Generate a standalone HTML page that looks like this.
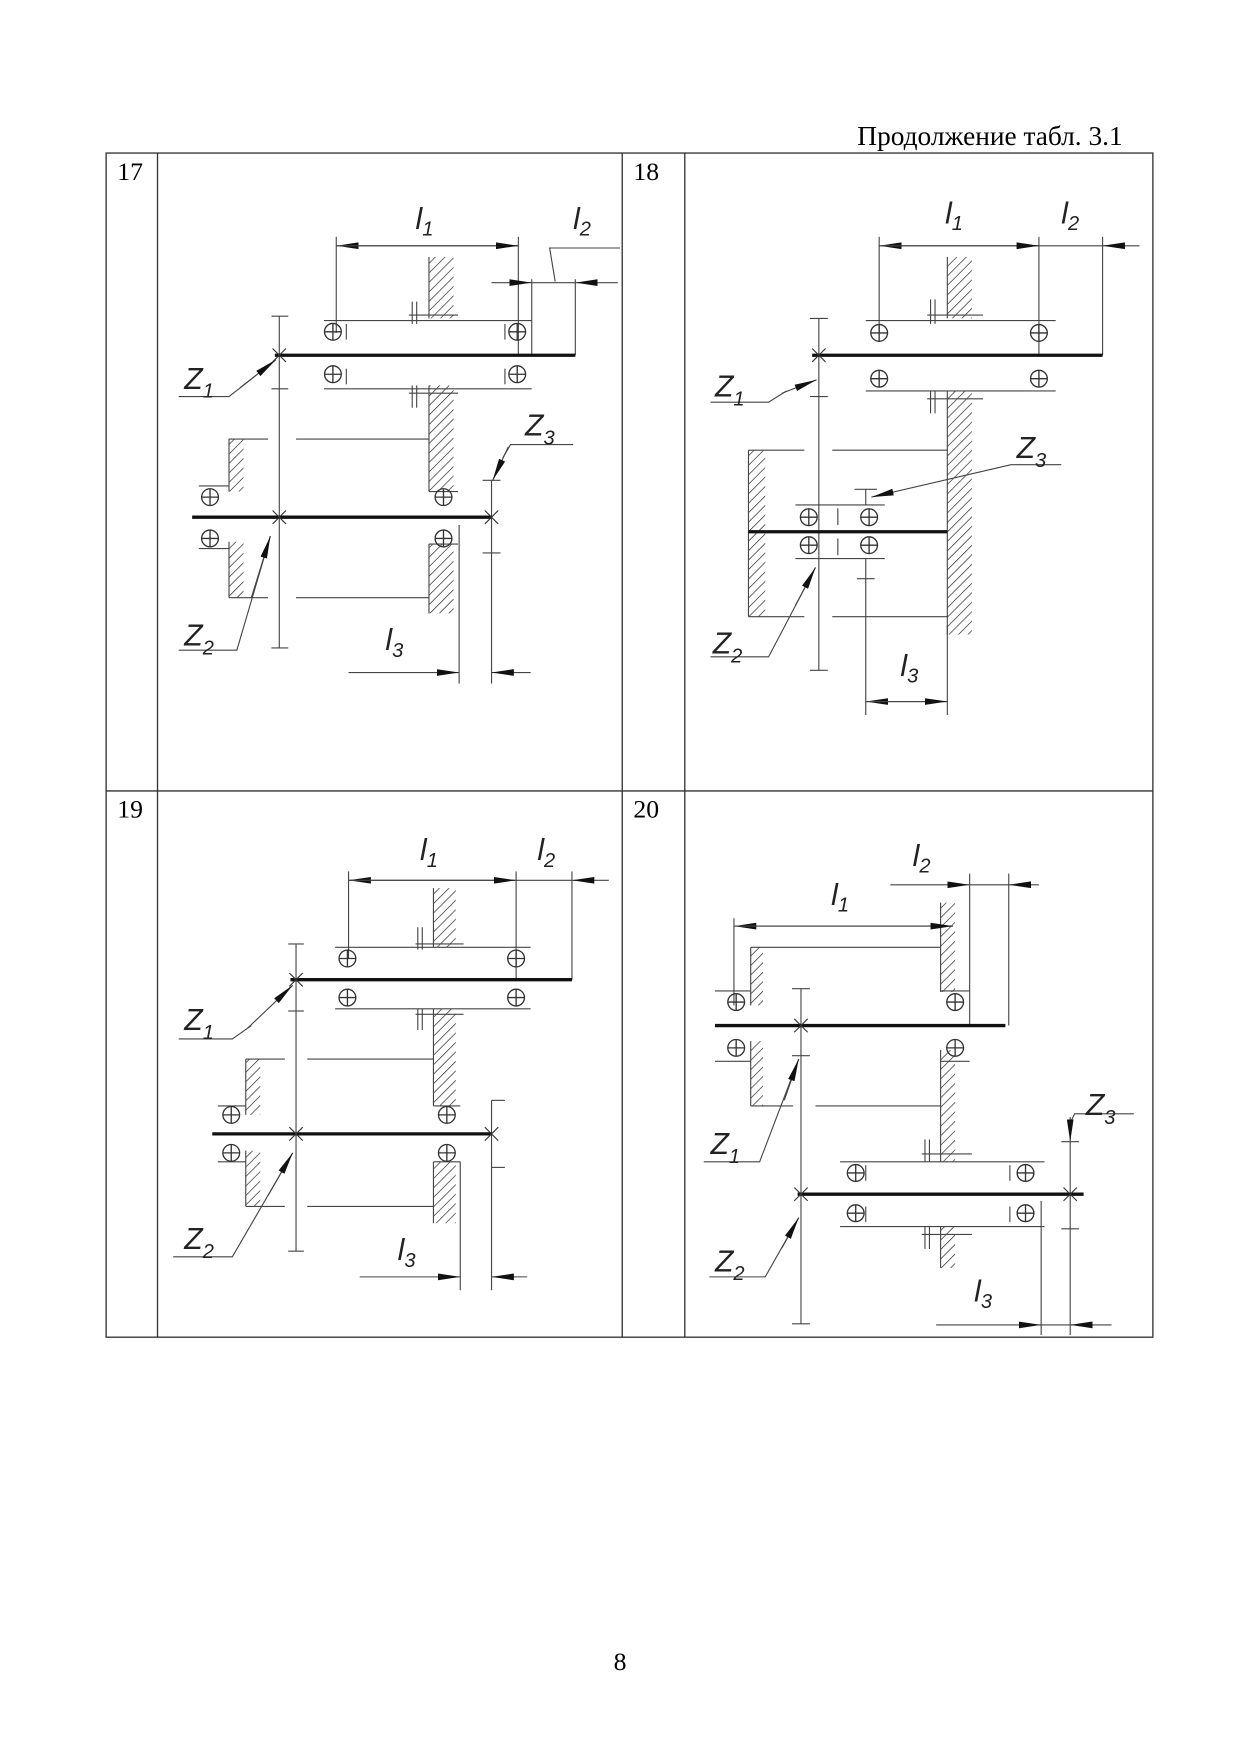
<!DOCTYPE html>
<html><head><meta charset="utf-8"><style>
html,body{margin:0;padding:0;background:#fff;}
svg{display:block;}
.t{font-family:"Liberation Serif",serif;font-size:23px;fill:#000;}
.hd{font-family:"Liberation Serif",serif;font-size:24.5px;fill:#000;}
.lb{font-family:"Liberation Sans",sans-serif;font-style:italic;font-size:27px;fill:#222;font-weight:normal;}
.sb{font-size:18px;}
</style></head><body>
<svg width="1240" height="1755" viewBox="0 0 1110 1571" preserveAspectRatio="none" xmlns="http://www.w3.org/2000/svg">
<defs>
<pattern id="h" width="6" height="6" patternUnits="userSpaceOnUse" patternTransform="rotate(45)">
<line x1="0" y1="0" x2="0" y2="6" stroke="#222" stroke-width="1.2"/></pattern>
<marker id="a" viewBox="0 0 20 8" refX="20" refY="4" markerWidth="20" markerHeight="8" markerUnits="userSpaceOnUse" orient="auto">
<path d="M0,1 L20,4 L0,7 Z" fill="#111"/></marker>
<symbol id="b" viewBox="-9 -9 18 18" width="18" height="18" overflow="visible">
<circle r="7.5" fill="none" stroke="#333" stroke-width="1.2"/><line x1="-7.5" y1="0" x2="7.5" y2="0" stroke="#333" stroke-width="1.2"/><line x1="0" y1="-7.5" x2="0" y2="7.5" stroke="#333" stroke-width="1.2"/></symbol>
</defs>
<rect width="1110" height="1571" fill="#fff"/>
<text class="hd" x="1005" y="130" text-anchor="end">Продолжение табл. 3.1</text>
<g stroke="#333" stroke-width="1.2" fill="none">
<rect x="95" y="137" width="937" height="1060"/>
<line x1="141" y1="137" x2="141" y2="1197"/><line x1="557" y1="137" x2="557" y2="1197"/><line x1="613" y1="137" x2="613" y2="1197"/>
<line x1="95" y1="708" x2="1032" y2="708"/>
</g>
<text class="t" x="105" y="161">17</text><text class="t" x="567" y="161">18</text>
<text class="t" x="105" y="732">19</text><text class="t" x="567" y="732">20</text>
<text class="t" x="555" y="1495" text-anchor="middle">8</text>

<!-- ===== 17 ===== -->
<g stroke="#444" stroke-width="1" fill="none">
<rect x="384" y="230" width="22" height="55" fill="url(#h)" stroke="none"/><line x1="384" y1="230" x2="384" y2="285"/>
<rect x="384" y="345" width="22" height="95" fill="url(#h)" stroke="none"/><line x1="384" y1="345" x2="384" y2="440"/>
<rect x="384" y="487" width="22" height="62" fill="url(#h)" stroke="none"/><line x1="384" y1="487" x2="384" y2="549"/>
<line x1="301" y1="212" x2="301" y2="298"/><line x1="464" y1="212" x2="464" y2="318"/>
<line x1="464" y1="220" x2="301" y2="220" marker-end="url(#a)"/><line x1="301" y1="220" x2="464" y2="220" marker-end="url(#a)"/>
<line x1="476" y1="250" x2="476" y2="318"/><line x1="515" y1="250" x2="515" y2="318"/>
<line x1="440" y1="253" x2="476" y2="253" marker-end="url(#a)"/><line x1="553" y1="253" x2="515" y2="253" marker-end="url(#a)"/>
<line x1="476" y1="253" x2="515" y2="253"/>
<polyline points="497,252 492,222 555,222"/>
<line x1="290" y1="287" x2="476" y2="287"/><line x1="290" y1="348" x2="476" y2="348"/>
<line x1="310" y1="290" x2="310" y2="304"/><line x1="452" y1="290" x2="452" y2="304"/>
<line x1="310" y1="330" x2="310" y2="344"/><line x1="452" y1="330" x2="452" y2="344"/>
<line x1="366" y1="282" x2="410" y2="282"/><line x1="369" y1="270" x2="369" y2="290"/><line x1="373" y1="270" x2="373" y2="290"/>
<line x1="366" y1="352" x2="410" y2="352"/><line x1="369" y1="345" x2="369" y2="365"/><line x1="373" y1="345" x2="373" y2="365"/>
<line x1="250" y1="283" x2="250" y2="580"/><line x1="243" y1="283" x2="258" y2="283"/><line x1="243" y1="348" x2="258" y2="348"/><line x1="243" y1="580" x2="258" y2="580"/>
<polyline points="160,355 205,355 247,322" /><line x1="215" y1="347" x2="247" y2="322" marker-end="url(#a)"/>
<polyline points="160,582 212,582 242,480"/><line x1="225" y1="535" x2="242" y2="480" marker-end="url(#a)"/>
<rect x="205" y="393" width="13" height="47" fill="url(#h)" stroke="none"/><line x1="205" y1="393" x2="205" y2="440"/>
<rect x="205" y="485" width="13" height="50" fill="url(#h)" stroke="none"/><line x1="205" y1="485" x2="205" y2="535"/>
<line x1="205" y1="393" x2="240" y2="393"/><line x1="265" y1="393" x2="384" y2="393"/>
<line x1="205" y1="535" x2="240" y2="535"/><line x1="265" y1="535" x2="384" y2="535"/>
<line x1="178" y1="435" x2="205" y2="435"/><line x1="178" y1="491" x2="205" y2="491"/>
<line x1="384" y1="440" x2="410" y2="440"/><line x1="384" y1="487" x2="410" y2="487"/>
<line x1="411" y1="470" x2="411" y2="612"/><line x1="440" y1="430" x2="440" y2="612"/>
<line x1="432" y1="430" x2="448" y2="430"/><line x1="432" y1="495" x2="448" y2="495"/>
<polyline points="513,398 457,398 450,410"/><line x1="455" y1="400" x2="441" y2="430" marker-end="url(#a)"/>
<line x1="312" y1="602" x2="411" y2="602" marker-end="url(#a)"/><line x1="475" y1="602" x2="440" y2="602" marker-end="url(#a)"/>
</g>
<g stroke="#111" stroke-width="3"><line x1="246" y1="318" x2="515" y2="318"/><line x1="172" y1="463" x2="440" y2="463"/></g>
<g stroke="#333" stroke-width="1"><path d="M244,312 l12,12 M256,312 l-12,12 M244,457 l12,12 M256,457 l-12,12 M434,457 l12,12 M446,457 l-12,12"/></g>
<use href="#b" x="289" y="288"/><use href="#b" x="454" y="288"/><use href="#b" x="289" y="326"/><use href="#b" x="454" y="326"/>
<use href="#b" x="179" y="436"/><use href="#b" x="179" y="473"/><use href="#b" x="388" y="436"/><use href="#b" x="388" y="473"/>
<text class="lb" x="372" y="205">l<tspan class="sb" dy="6">1</tspan></text>
<text class="lb" x="513" y="205">l<tspan class="sb" dy="6">2</tspan></text>
<text class="lb" x="165" y="348">Z<tspan class="sb" dy="8">1</tspan></text>
<text class="lb" x="165" y="578">Z<tspan class="sb" dy="8">2</tspan></text>
<text class="lb" x="470" y="390">Z<tspan class="sb" dy="8">3</tspan></text>
<text class="lb" x="345" y="582">l<tspan class="sb" dy="6">3</tspan></text>

<!-- ===== 18 ===== -->
<g stroke="#444" stroke-width="1" fill="none">
<rect x="848" y="230" width="22" height="55" fill="url(#h)" stroke="none"/><line x1="848" y1="230" x2="848" y2="285"/>
<rect x="848" y="350" width="22" height="218" fill="url(#h)" stroke="none"/><line x1="848" y1="350" x2="848" y2="568"/>
<line x1="787" y1="212" x2="787" y2="298"/><line x1="930" y1="212" x2="930" y2="318"/><line x1="987" y1="212" x2="987" y2="318"/>
<line x1="930" y1="220" x2="787" y2="220" marker-end="url(#a)"/><line x1="787" y1="220" x2="930" y2="220" marker-end="url(#a)"/>
<line x1="930" y1="220" x2="987" y2="220"/><line x1="1020" y1="220" x2="987" y2="220" marker-end="url(#a)"/>
<line x1="775" y1="287" x2="945" y2="287"/><line x1="775" y1="350" x2="945" y2="350"/>
<line x1="830" y1="282" x2="880" y2="282"/><line x1="833" y1="268" x2="833" y2="290"/><line x1="837" y1="268" x2="837" y2="290"/>
<line x1="830" y1="357" x2="880" y2="357"/><line x1="833" y1="350" x2="833" y2="370"/><line x1="837" y1="350" x2="837" y2="370"/>
<line x1="733" y1="285" x2="733" y2="600"/><line x1="725" y1="285" x2="741" y2="285"/><line x1="725" y1="355" x2="741" y2="355"/><line x1="725" y1="600" x2="741" y2="600"/>
<polyline points="636,360 688,360 704,350"/><line x1="700" y1="352" x2="731" y2="340" marker-end="url(#a)"/>
<polyline points="636,588 688,588 730,508"/><line x1="712" y1="542" x2="730" y2="508" marker-end="url(#a)"/>
<rect x="670" y="403" width="15" height="149" fill="url(#h)" stroke="none"/><line x1="670" y1="403" x2="670" y2="552"/>
<line x1="670" y1="403" x2="720" y2="403"/><line x1="745" y1="403" x2="848" y2="403"/>
<line x1="670" y1="552" x2="720" y2="552"/><line x1="745" y1="552" x2="848" y2="552"/>
<line x1="712" y1="452" x2="792" y2="452"/><line x1="712" y1="500" x2="792" y2="500"/>
<line x1="750" y1="455" x2="750" y2="470"/><line x1="750" y1="482" x2="750" y2="497"/>
<line x1="775" y1="438" x2="775" y2="452"/><line x1="765" y1="438" x2="785" y2="438"/>
<line x1="775" y1="500" x2="775" y2="640"/><line x1="767" y1="518" x2="783" y2="518"/>
<line x1="848" y1="560" x2="848" y2="640"/>
<line x1="848" y1="628" x2="775" y2="628" marker-end="url(#a)"/><line x1="775" y1="628" x2="848" y2="628" marker-end="url(#a)"/>
<polyline points="950,416 905,416"/><line x1="905" y1="416" x2="780" y2="445" marker-end="url(#a)"/>
</g>
<g stroke="#111" stroke-width="3"><line x1="727" y1="318" x2="987" y2="318"/><line x1="670" y1="476" x2="848" y2="476"/></g>
<g stroke="#333" stroke-width="1"><path d="M727,312 l12,12 M739,312 l-12,12"/></g>
<use href="#b" x="778" y="289"/><use href="#b" x="921" y="289"/><use href="#b" x="778" y="330"/><use href="#b" x="921" y="330"/>
<use href="#b" x="715" y="454"/><use href="#b" x="769" y="454"/><use href="#b" x="715" y="479"/><use href="#b" x="769" y="479"/>
<text class="lb" x="846" y="200">l<tspan class="sb" dy="6">1</tspan></text>
<text class="lb" x="950" y="200">l<tspan class="sb" dy="6">2</tspan></text>
<text class="lb" x="640" y="355">Z<tspan class="sb" dy="8">1</tspan></text>
<text class="lb" x="638" y="585">Z<tspan class="sb" dy="8">2</tspan></text>
<text class="lb" x="910" y="410">Z<tspan class="sb" dy="8">3</tspan></text>
<text class="lb" x="806" y="605">l<tspan class="sb" dy="6">3</tspan></text>

<!-- ===== 19 ===== -->
<g stroke="#444" stroke-width="1" fill="none">
<rect x="388" y="795" width="20" height="53" fill="url(#h)" stroke="none"/><line x1="388" y1="795" x2="388" y2="848"/>
<rect x="388" y="903" width="20" height="87" fill="url(#h)" stroke="none"/><line x1="388" y1="903" x2="388" y2="990"/>
<rect x="388" y="1040" width="20" height="55" fill="url(#h)" stroke="none"/><line x1="388" y1="1040" x2="388" y2="1095"/>
<line x1="312" y1="780" x2="312" y2="858"/><line x1="462" y1="780" x2="462" y2="877"/><line x1="512" y1="780" x2="512" y2="877"/>
<line x1="462" y1="788" x2="312" y2="788" marker-end="url(#a)"/><line x1="312" y1="788" x2="462" y2="788" marker-end="url(#a)"/>
<line x1="462" y1="788" x2="512" y2="788"/><line x1="545" y1="788" x2="512" y2="788" marker-end="url(#a)"/>
<line x1="300" y1="848" x2="475" y2="848"/><line x1="300" y1="903" x2="475" y2="903"/>
<line x1="372" y1="845" x2="415" y2="845"/><line x1="374" y1="830" x2="374" y2="850"/><line x1="378" y1="830" x2="378" y2="850"/>
<line x1="372" y1="908" x2="415" y2="908"/><line x1="374" y1="903" x2="374" y2="922"/><line x1="378" y1="903" x2="378" y2="922"/>
<line x1="265" y1="845" x2="265" y2="1120"/><line x1="258" y1="845" x2="272" y2="845"/><line x1="258" y1="905" x2="272" y2="905"/><line x1="258" y1="1120" x2="272" y2="1120"/>
<polyline points="160,930 208,930 225,918"/><line x1="222" y1="920" x2="262" y2="882" marker-end="url(#a)"/>
<polyline points="155,1125 208,1125 262,1032"/><line x1="240" y1="1070" x2="262" y2="1032" marker-end="url(#a)"/>
<rect x="220" y="948" width="13" height="50" fill="url(#h)" stroke="none"/><line x1="220" y1="948" x2="220" y2="998"/>
<rect x="220" y="1030" width="13" height="50" fill="url(#h)" stroke="none"/><line x1="220" y1="1030" x2="220" y2="1080"/>
<line x1="220" y1="948" x2="255" y2="948"/><line x1="275" y1="948" x2="388" y2="948"/>
<line x1="220" y1="1080" x2="255" y2="1080"/><line x1="275" y1="1080" x2="388" y2="1080"/>
<line x1="195" y1="990" x2="220" y2="990"/><line x1="195" y1="1040" x2="220" y2="1040"/>
<line x1="388" y1="990" x2="412" y2="990"/><line x1="388" y1="1040" x2="412" y2="1040"/>
<line x1="412" y1="1040" x2="412" y2="1155"/><line x1="440" y1="985" x2="440" y2="1155"/><polyline points="452,985 440,985"/><line x1="440" y1="1045" x2="452" y2="1045"/>
<line x1="322" y1="1143" x2="412" y2="1143" marker-end="url(#a)"/><line x1="472" y1="1143" x2="440" y2="1143" marker-end="url(#a)"/>
</g>
<g stroke="#111" stroke-width="3"><line x1="260" y1="877" x2="512" y2="877"/><line x1="190" y1="1015" x2="440" y2="1015"/></g>
<g stroke="#333" stroke-width="1"><path d="M259,871 l12,12 M271,871 l-12,12 M259,1009 l12,12 M271,1009 l-12,12 M434,1009 l12,12 M446,1009 l-12,12"/></g>
<use href="#b" x="302" y="849"/><use href="#b" x="453" y="849"/><use href="#b" x="302" y="884"/><use href="#b" x="453" y="884"/>
<use href="#b" x="198" y="989"/><use href="#b" x="198" y="1023"/><use href="#b" x="391" y="989"/><use href="#b" x="391" y="1023"/>
<text class="lb" x="376" y="770">l<tspan class="sb" dy="6">1</tspan></text>
<text class="lb" x="481" y="770">l<tspan class="sb" dy="6">2</tspan></text>
<text class="lb" x="165" y="922">Z<tspan class="sb" dy="8">1</tspan></text>
<text class="lb" x="165" y="1118">Z<tspan class="sb" dy="8">2</tspan></text>
<text class="lb" x="356" y="1128">l<tspan class="sb" dy="6">3</tspan></text>

<!-- ===== 20 ===== -->
<g stroke="#444" stroke-width="1" fill="none">
<rect x="842" y="808" width="13" height="80" fill="url(#h)" stroke="none"/><line x1="842" y1="808" x2="842" y2="888"/>
<rect x="842" y="940" width="13" height="100" fill="url(#h)" stroke="none"/><line x1="842" y1="940" x2="842" y2="1040"/>
<rect x="842" y="1098" width="13" height="37" fill="url(#h)" stroke="none"/><line x1="842" y1="1098" x2="842" y2="1135"/>
<line x1="868" y1="782" x2="868" y2="918"/><line x1="903" y1="782" x2="903" y2="918"/>
<line x1="797" y1="792" x2="868" y2="792" marker-end="url(#a)"/><line x1="930" y1="792" x2="903" y2="792" marker-end="url(#a)"/><line x1="868" y1="792" x2="903" y2="792"/>
<line x1="657" y1="822" x2="657" y2="900"/>
<line x1="853" y1="829" x2="657" y2="829" marker-end="url(#a)"/><line x1="657" y1="829" x2="853" y2="829" marker-end="url(#a)"/>
<line x1="672" y1="848" x2="842" y2="848"/>
<rect x="672" y="848" width="11" height="52" fill="url(#h)" stroke="none"/><line x1="672" y1="848" x2="672" y2="900"/>
<rect x="672" y="932" width="11" height="58" fill="url(#h)" stroke="none"/><line x1="672" y1="932" x2="672" y2="990"/>
<line x1="672" y1="990" x2="710" y2="990"/><line x1="730" y1="990" x2="842" y2="990"/>
<line x1="640" y1="887" x2="672" y2="887"/><line x1="640" y1="950" x2="672" y2="950"/>
<line x1="842" y1="887" x2="868" y2="887"/><line x1="842" y1="950" x2="868" y2="950"/>
<line x1="717" y1="885" x2="717" y2="1185"/><line x1="709" y1="885" x2="725" y2="885"/><line x1="709" y1="945" x2="725" y2="945"/><line x1="709" y1="1185" x2="725" y2="1185"/>
<polyline points="630,1040 680,1040 715,948"/><line x1="702" y1="985" x2="715" y2="948" marker-end="url(#a)"/>
<polyline points="635,1143 685,1143 715,1090"/><line x1="700" y1="1117" x2="715" y2="1090" marker-end="url(#a)"/>
<line x1="752" y1="1040" x2="935" y2="1040"/><line x1="752" y1="1098" x2="935" y2="1098"/>
<line x1="775" y1="1043" x2="775" y2="1057"/><line x1="904" y1="1043" x2="904" y2="1057"/>
<line x1="775" y1="1080" x2="775" y2="1094"/><line x1="904" y1="1080" x2="904" y2="1094"/>
<line x1="825" y1="1033" x2="870" y2="1033"/><line x1="828" y1="1020" x2="828" y2="1040"/><line x1="832" y1="1020" x2="832" y2="1040"/>
<line x1="825" y1="1105" x2="870" y2="1105"/><line x1="828" y1="1098" x2="828" y2="1118"/><line x1="832" y1="1098" x2="832" y2="1118"/>
<line x1="932" y1="1075" x2="932" y2="1195"/><line x1="958" y1="1022" x2="958" y2="1195"/>
<line x1="950" y1="1022" x2="966" y2="1022"/><line x1="950" y1="1100" x2="966" y2="1100"/>
<polyline points="1015,997 962,997 958,1005"/><line x1="958" y1="1000" x2="958" y2="1022" marker-end="url(#a)"/>
<line x1="838" y1="1186" x2="932" y2="1186" marker-end="url(#a)"/><line x1="995" y1="1186" x2="958" y2="1186" marker-end="url(#a)"/><line x1="932" y1="1186" x2="958" y2="1186"/>
</g>
<g stroke="#111" stroke-width="3"><line x1="640" y1="918" x2="900" y2="918"/><line x1="714" y1="1069" x2="970" y2="1069"/></g>
<g stroke="#333" stroke-width="1"><path d="M711,912 l12,12 M723,912 l-12,12 M711,1063 l12,12 M723,1063 l-12,12 M952,1063 l12,12 M964,1063 l-12,12"/></g>
<use href="#b" x="650" y="888"/><use href="#b" x="650" y="929"/><use href="#b" x="846" y="888"/><use href="#b" x="846" y="929"/>
<use href="#b" x="757" y="1041"/><use href="#b" x="909" y="1041"/><use href="#b" x="757" y="1077"/><use href="#b" x="909" y="1077"/>
<text class="lb" x="744" y="810">l<tspan class="sb" dy="6">1</tspan></text>
<text class="lb" x="817" y="775">l<tspan class="sb" dy="6">2</tspan></text>
<text class="lb" x="636" y="1033">Z<tspan class="sb" dy="8">1</tspan></text>
<text class="lb" x="640" y="1138">Z<tspan class="sb" dy="8">2</tspan></text>
<text class="lb" x="972" y="998">Z<tspan class="sb" dy="8">3</tspan></text>
<text class="lb" x="872" y="1165">l<tspan class="sb" dy="6">3</tspan></text>
</svg>
</body></html>
